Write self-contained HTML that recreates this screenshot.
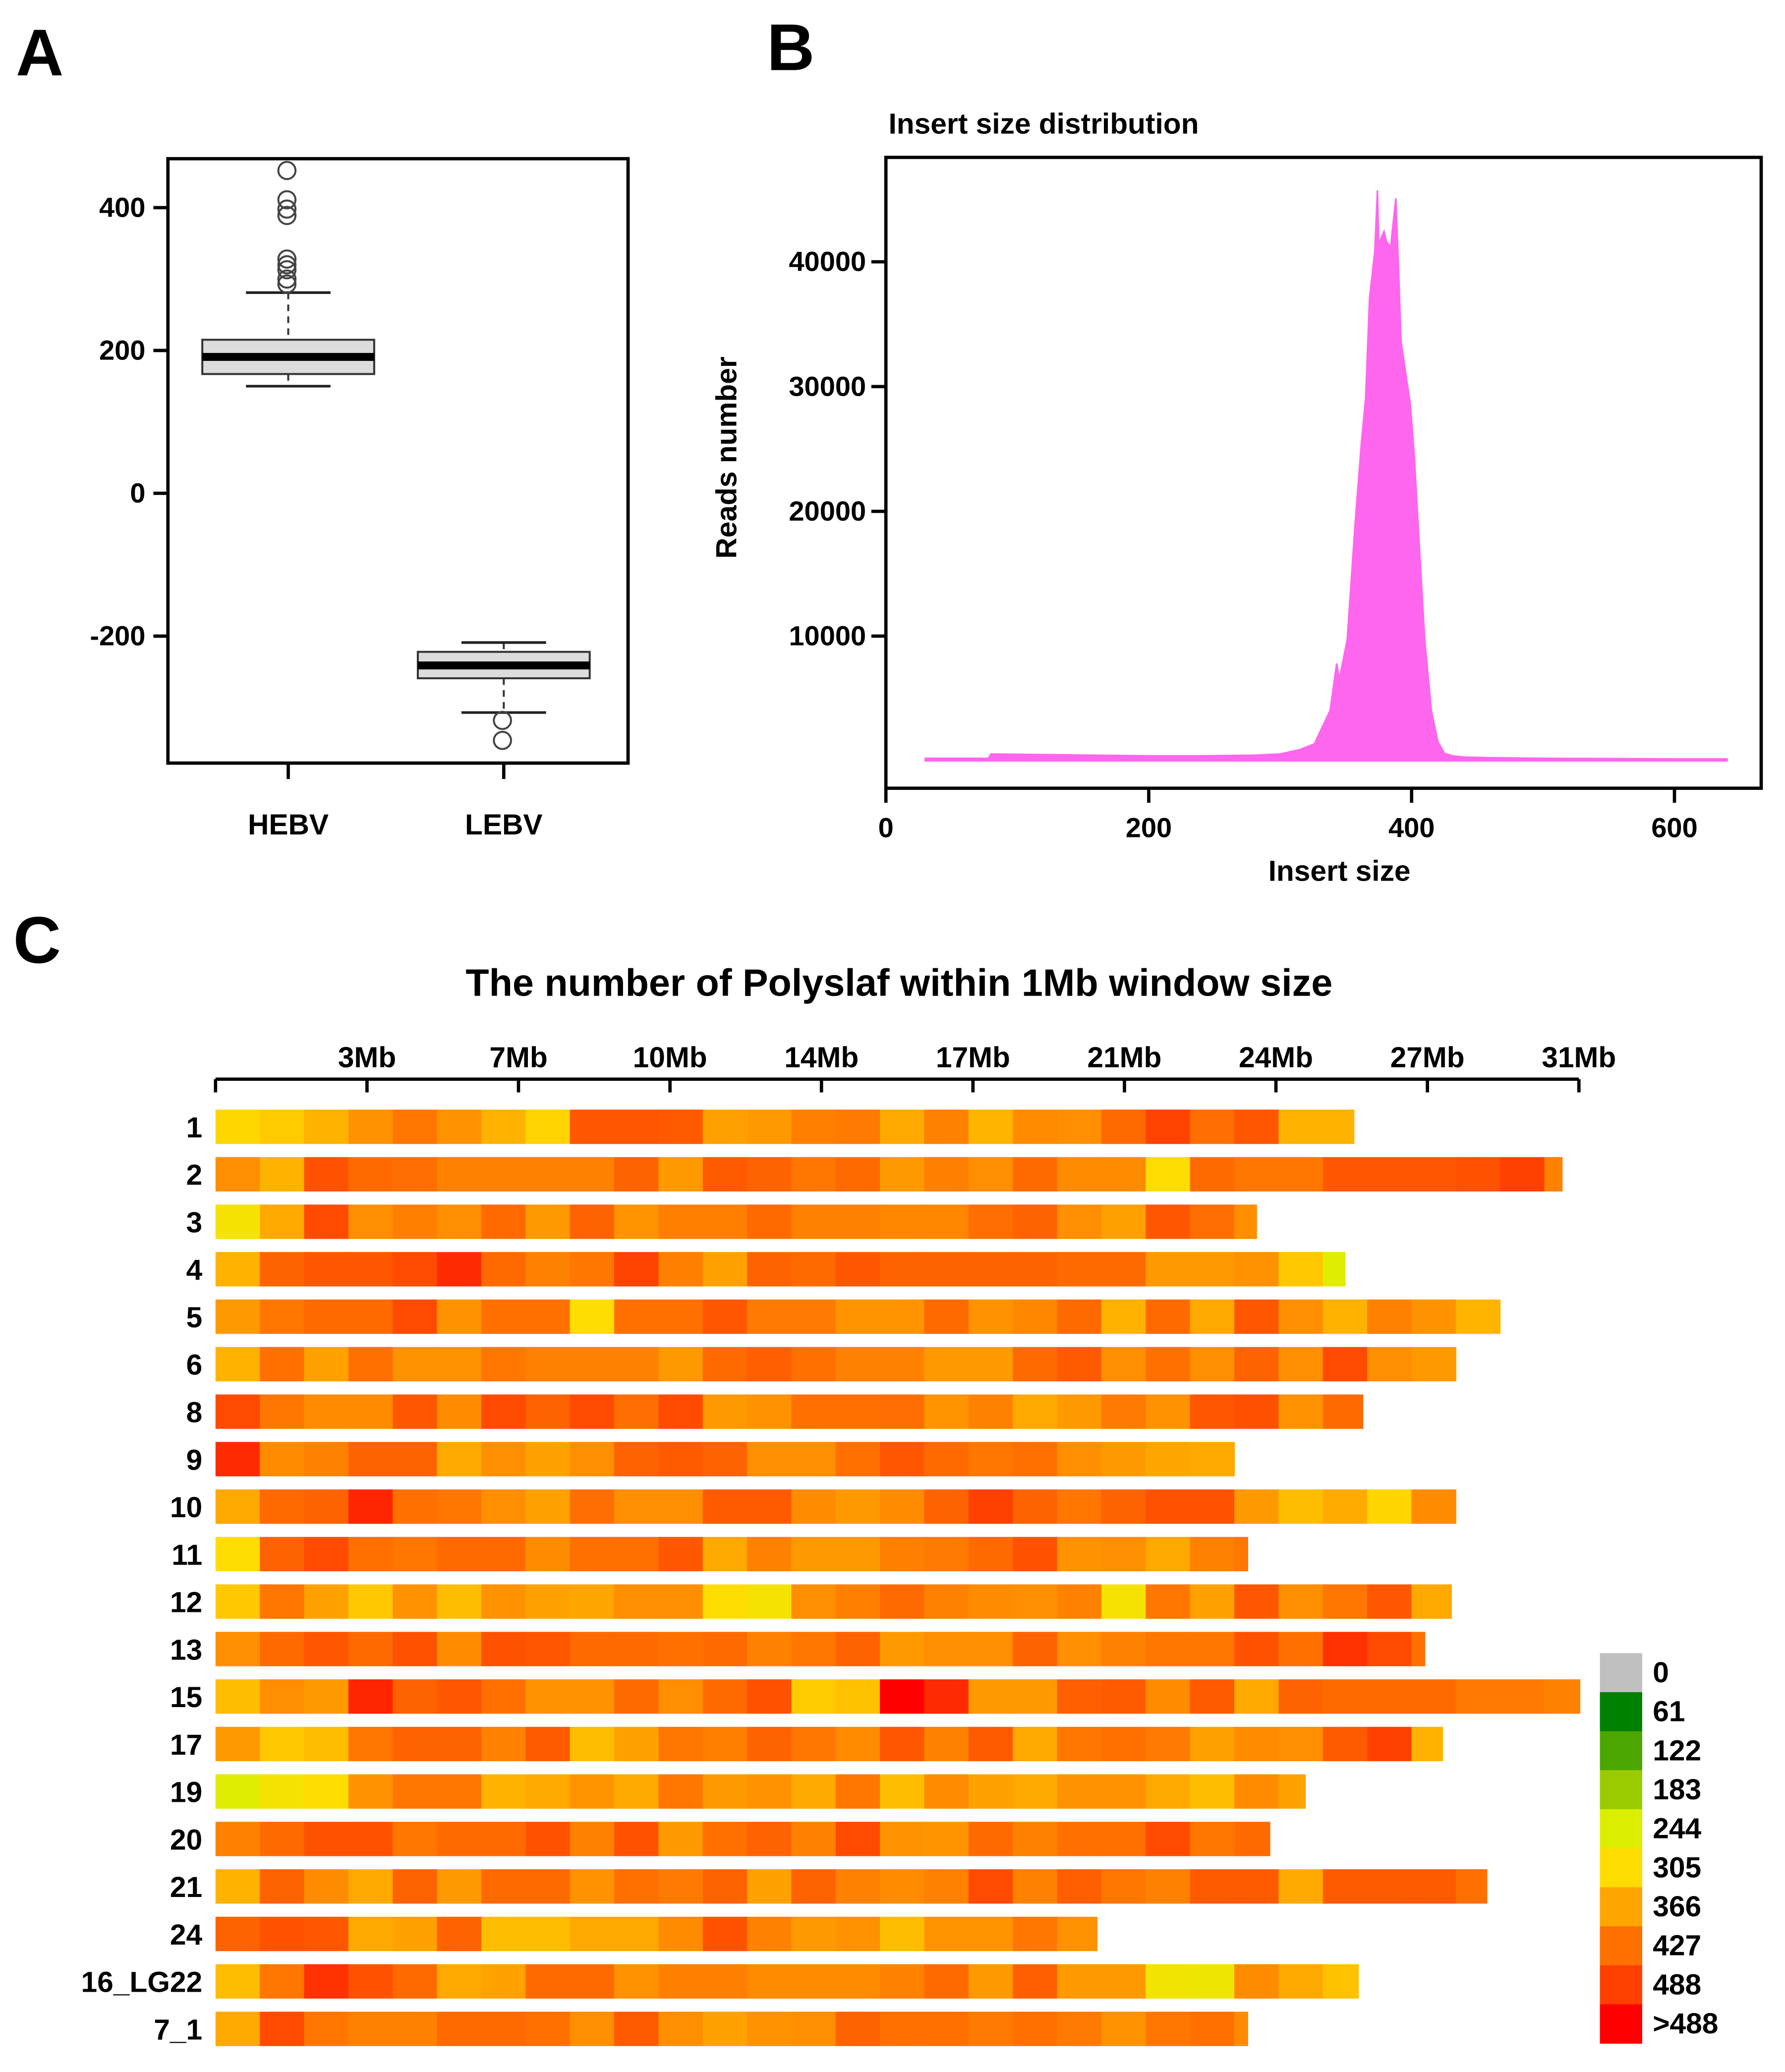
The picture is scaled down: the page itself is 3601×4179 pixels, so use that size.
<!DOCTYPE html>
<html><head><meta charset="utf-8">
<style>
html,body{margin:0;padding:0;background:#fff;}
svg{display:block;font-family:"Liberation Sans",sans-serif;font-weight:bold;}
</style></head>
<body>
<svg id="fig" width="3601" height="4179" viewBox="0 0 1350 1566.7" preserveAspectRatio="none" xmlns="http://www.w3.org/2000/svg">
<rect x="0" y="0" width="1350" height="1567" fill="#fff"/>
<text x="12" y="57" font-size="50">A</text>
<text x="580" y="53" font-size="50">B</text>
<text x="10" y="728" font-size="50">C</text>

<g id="panelA"></g>
<g id="panelB"></g>
<g id="panelC"></g>
</svg>
<script>
// ---------- Panel A data ----------
const boxGroups = ['HEBV','LEBV'];
const boxQ1 = [167, -259];
const boxQ3 = [215, -222];
const boxMedian = [191, -241];
const boxWhiskerLow = [150, -307];
const boxWhiskerHigh = [281, -209];
const boxOutliersHEBV = [452, 411, 398, 389, 328, 320, 313, 300, 293];
const boxOutliersLEBV = [-318, -346];
const boxYTicks = [400, 200, 0, -200];

// ---------- Panel B data ----------
const insertSizes = [30,78,80,120,160,200,240,280,300,315,326,338,343,345,351,357,362,365,368,372,374,375,379,381,384,388,390,392,399,402,406,410,415,420,425,431,440,460,500,550,600,640];
const readCounts = [200,200,550,500,450,400,400,450,550,900,1360,4040,7810,6550,9700,19000,25750,29050,37090,40860,45730,41490,42430,41600,41180,45100,39600,33600,28580,24500,17000,9700,4040,1530,600,400,300,250,200,180,150,150];
const histXTicks = [0,200,400,600];
const histYTicks = [10000,20000,30000,40000];

// ---------- Panel C data ----------
const chromLabels = ['1','2','3','4','5','6','8','9','10','11','12','13','15','17','19','20','21','24','16_LG22','7_1'];
const chromLengths = [25.7,30.4,23.5,25.5,29.0,28.0,25.9,23.0,28.0,23.3,27.9,27.3,30.8,27.7,24.6,23.8,28.7,19.9,25.8,23.3];
const win1 = [312,325,352,388,420,388,352,316,460,460,455,372,380,410,415,362,408,350,395,392,435,485,430,460,352,352];
const win2 = [392,352,465,435,430,408,408,408,408,445,380,455,445,420,435,380,410,392,435,395,395,305,435,420,420,460,460,460,465,488,408];
const win3 = [285,362,475,392,410,392,435,380,445,385,410,410,435,408,408,400,400,430,445,392,372,460,430,392];
const win4 = [352,445,460,460,475,505,435,408,420,485,410,370,445,435,460,445,445,445,445,435,435,380,380,388,328,250];
const win5 = [380,420,435,435,475,388,427,427,305,427,427,460,415,415,385,385,435,388,400,435,352,435,362,460,392,352,408,388,350];
const win6 = [352,427,370,427,388,388,420,408,408,408,380,435,448,427,408,408,380,380,435,455,392,427,392,445,392,475,392,380];
const win8 = [475,420,395,395,460,395,475,445,475,430,475,380,388,427,427,430,385,408,362,380,415,388,460,468,388,435];
const win9 = [505,395,408,445,445,362,392,370,392,445,455,445,392,392,427,460,435,420,427,392,380,366,362];
const win10 = [362,435,445,510,427,420,392,370,430,392,392,455,455,395,380,395,445,488,445,420,445,465,465,380,340,360,313,395];
const win11 = [305,445,475,427,420,435,435,395,427,427,460,362,408,380,380,410,415,435,465,388,392,362,408,420];
const win12 = [328,420,370,328,388,340,388,370,366,392,392,305,285,392,410,435,408,395,392,408,285,420,370,460,392,420,460,362];
const win13 = [392,435,460,435,465,395,465,460,435,435,427,435,408,420,445,380,392,392,445,392,408,420,420,465,427,500,475,427];
const win15 = [340,392,380,510,445,460,427,388,388,435,392,435,465,325,335,540,505,380,380,448,455,395,455,362,445,435,435,435,415,415,408];
const win17 = [380,328,340,420,445,445,408,455,340,370,420,410,445,420,395,460,408,455,362,420,427,415,370,395,392,455,488,352];
const win19 = [250,285,305,388,420,420,352,362,385,362,420,380,388,362,420,340,395,370,362,388,388,362,340,395,370];
const win20 = [408,435,465,465,420,435,435,465,408,465,380,427,445,408,475,388,385,435,408,427,427,475,420,435];
const win21 = [352,445,395,362,445,380,435,435,388,427,415,445,370,445,408,395,408,475,408,448,420,408,455,455,362,455,455,455,427];
const win24 = [445,465,460,362,370,445,340,340,362,362,395,465,408,380,388,340,385,385,420,388];
const win16LG22 = [340,420,500,465,435,362,370,435,435,388,410,410,395,395,395,408,435,380,448,380,380,280,275,395,362,335];
const win7_1 = [362,475,420,408,408,435,435,427,392,455,392,370,388,392,445,427,427,415,427,415,388,420,427,395];
const windowValues = [win1,win2,win3,win4,win5,win6,win8,win9,win10,win11,win12,win13,win15,win17,win19,win20,win21,win24,win16LG22,win7_1];
const mbTickValues = [3.42,6.84,10.26,13.68,17.1,20.52,23.94,27.36,30.78];
const mbTickLabels = ['3Mb','7Mb','10Mb','14Mb','17Mb','21Mb','24Mb','27Mb','31Mb'];
const legendLabels = ['0','61','122','183','244','305','366','427','488','>488'];
const legendColors = ['#c0c0c0','#008000','#4ca600','#9acb00','#dcee00','#ffdc00','#ffa500','#ff7000','#ff4000','#ff0000'];

const NS = 'http://www.w3.org/2000/svg';
function mk(tag, attrs, parent){
  const e = document.createElementNS(NS, tag);
  for (const k in attrs) e.setAttribute(k, attrs[k]);
  parent.appendChild(e);
  return e;
}

// ================= Panel A =================
(function(){
  const g = document.getElementById('panelA');
  const y = v => 373 - v*0.54;
  const xs = [218, 381];
  const frame = mk('rect',{x:127,y:120,width:348,height:457,fill:'none',stroke:'#000','stroke-width':2.5},g);
  
  
  boxYTicks.forEach(v=>{
    const t = mk('line',{x1:116,x2:127,y1:y(v),y2:y(v),stroke:'#000','stroke-width':2.5},g);
    
    
    const l = mk('text',{x:110,y:y(v)+7,'font-size':21,'text-anchor':'end'},g);
    l.textContent = v;
    
    
  });
  boxGroups.forEach((name,i)=>{
    const cx = xs[i];
    const t = mk('line',{x1:cx,x2:cx,y1:577,y2:589,stroke:'#000','stroke-width':2.5},g);
    
    
    const l = mk('text',{x:cx,y:631,'font-size':22,'text-anchor':'middle'},g);
    l.textContent = name;
    
    
    const w1 = mk('line',{x1:cx,x2:cx,y1:y(boxWhiskerHigh[i]),y2:y(boxQ3[i]),stroke:'#333','stroke-width':1.5,'stroke-dasharray':'5,4'},g);
    
    
    const w2 = mk('line',{x1:cx,x2:cx,y1:y(boxQ1[i]),y2:y(boxWhiskerLow[i]),stroke:'#333','stroke-width':1.5,'stroke-dasharray':'5,4'},g);
    
    
    const c1 = mk('line',{x1:cx-32,x2:cx+32,y1:y(boxWhiskerHigh[i]),y2:y(boxWhiskerHigh[i]),stroke:'#222','stroke-width':2},g);
    
    
    const c2 = mk('line',{x1:cx-32,x2:cx+32,y1:y(boxWhiskerLow[i]),y2:y(boxWhiskerLow[i]),stroke:'#222','stroke-width':2},g);
    
    
    const b = mk('rect',{x:cx-65,y:y(boxQ3[i]),width:130,height:y(boxQ1[i])-y(boxQ3[i]),fill:'#dcdcdc',stroke:'#333','stroke-width':1.5},g);
    
    
    const m = mk('line',{x1:cx-65,x2:cx+65,y1:y(boxMedian[i]),y2:y(boxMedian[i]),stroke:'#000','stroke-width':6},g);
    
    
    const outs = i===0 ? boxOutliersHEBV : boxOutliersLEBV;
    outs.forEach(v=>{
      const o = mk('circle',{cx:cx-1,cy:y(v),r:6.5,fill:'none',stroke:'#444','stroke-width':1.5},g);
      
      
    });
  });
})();

// ================= Panel B =================
(function(){
  const g = document.getElementById('panelB');
  const x = s => 670 + s*0.994;
  const y = c => 575.3 - c*0.009433;
  const title = mk('text',{x:672,y:101,'font-size':22},g);
  title.textContent = 'Insert size distribution';
  
  
  let d = 'M'+x(insertSizes[0])+','+y(0);
  insertSizes.forEach((s,i)=>{ d += ' L'+x(s)+','+y(readCounts[i]); });
  d += ' L'+x(insertSizes[insertSizes.length-1])+','+y(0)+' Z';
  const area = mk('path',{d:d,fill:'#ff66ee',stroke:'#ff66ee','stroke-width':1.2},g);
  
  
  const fr = mk('rect',{x:670,y:119,width:662,height:477,fill:'none',stroke:'#000','stroke-width':2.5},g);
  
  
  histXTicks.forEach(v=>{
    const t = mk('line',{x1:x(v),x2:x(v),y1:596,y2:607,stroke:'#000','stroke-width':2.5},g);
    
    
    const l = mk('text',{x:x(v),y:633,'font-size':21,'text-anchor':'middle'},g);
    l.textContent = v;
    
    
  });
  histYTicks.forEach(v=>{
    const t = mk('line',{x1:659,x2:670,y1:y(v),y2:y(v),stroke:'#000','stroke-width':2.5},g);
    
    
    const l = mk('text',{x:655,y:y(v)+7,'font-size':21,'text-anchor':'end'},g);
    l.textContent = v;
    
    
  });
  const xt = mk('text',{x:1013,y:666,'font-size':22,'text-anchor':'middle'},g);
  xt.textContent = 'Insert size';
  
  
  const yt = mk('text',{x:0,y:0,'font-size':22,'text-anchor':'middle',transform:'translate(557,346) rotate(-90)'},g);
  yt.textContent = 'Reads number';
  
  
})();

// ================= Panel C =================
(function(){
  const g = document.getElementById('panelC');
  const x0 = 163, mbW = 33.5;
  const x = mb => x0 + mb*mbW;
  const rowTop = i => 839 + i*35.9;
  const stops = [[244,[221,238,0]],[305,[255,221,0]],[366,[255,165,0]],[427,[255,112,0]],[488,[255,64,0]],[540,[255,0,0]]];
  function colorOf(v){
    if (v <= stops[0][0]) return 'rgb('+stops[0][1].join(',')+')';
    for (let k=1;k<stops.length;k++){
      if (v <= stops[k][0]){
        const a=stops[k-1], b=stops[k], t=(v-a[0])/(b[0]-a[0]);
        const c=a[1].map((q,j)=>Math.round(q+(b[1][j]-q)*t));
        return 'rgb('+c.join(',')+')';
      }
    }
    return 'rgb(255,0,0)';
  }
  const title = mk('text',{x:680,y:753,'font-size':29,'text-anchor':'middle'},g);
  title.textContent = 'The number of Polyslaf within 1Mb window size';
  
  
  const axis = mk('line',{x1:x0,x2:x(mbTickValues[mbTickValues.length-1]),y1:816,y2:816,stroke:'#000','stroke-width':2.5},g);
  
  
  const t0 = mk('line',{x1:x0,x2:x0,y1:816,y2:826,stroke:'#000','stroke-width':2.5},g);
  
  
  mbTickValues.forEach((v,i)=>{
    const t = mk('line',{x1:x(v),x2:x(v),y1:816,y2:826,stroke:'#000','stroke-width':2.5},g);
    
    
    const l = mk('text',{x:x(v),y:807,'font-size':22,'text-anchor':'middle'},g);
    l.textContent = mbTickLabels[i];
    
    
  });
  chromLabels.forEach((name,i)=>{
    const top = rowTop(i);
    const l = mk('text',{x:153,y:top+21,'font-size':22,'text-anchor':'end'},g);
    l.textContent = name;
    
    
    const vals = windowValues[i];
    const len = chromLengths[i];
    vals.forEach((v,k)=>{
      const s = k, e = Math.min(k+1, len);
      if (e <= s) return;
      const r = mk('rect',{x:x(s),y:top,width:x(e)-x(s)+0.4,height:26,fill:colorOf(v)},g);
      
      
    });
  });
  legendLabels.forEach((lab,i)=>{
    const yy = 1250 + i*29.5;
    const r = mk('rect',{x:1210,y:yy,width:32,height:29.8,fill:legendColors[i]},g);
    
    
    const t = mk('text',{x:1250,y:yy+22,'font-size':22},g);
    t.textContent = lab;
    
    
  });
})();
</script>
</body></html>
